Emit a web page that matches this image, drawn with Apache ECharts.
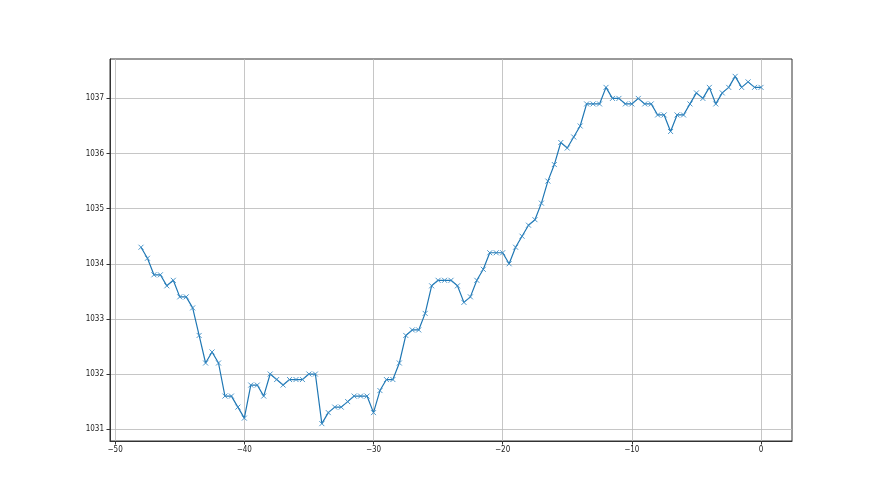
<!DOCTYPE html>
<html>
<head>
<meta charset="utf-8">
<script src="https://cdn.jsdelivr.net/npm/echarts@6/dist/echarts.min.js"></script>
<style>html,body{margin:0;padding:0;background:#fff}#c{width:880px;height:495px}</style>
</head>
<body>
<div id="c"></div>
<script>
const xValues = [-48,-47.5,-47,-46.5,-46,-45.5,-45,-44.5,-44,-43.5,-43,-42.5,-42,-41.5,-41,-40.5,-40,-39.5,-39,-38.5,-38,-37.5,-37,-36.5,-36,-35.5,-35,-34.5,-34,-33.5,-33,-32.5,-32,-31.5,-31,-30.5,-30,-29.5,-29,-28.5,-28,-27.5,-27,-26.5,-26,-25.5,-25,-24.5,-24,-23.5,-23,-22.5,-22,-21.5,-21,-20.5,-20,-19.5,-19,-18.5,-18,-17.5,-17,-16.5,-16,-15.5,-15,-14.5,-14,-13.5,-13,-12.5,-12,-11.5,-11,-10.5,-10,-9.5,-9,-8.5,-8,-7.5,-7,-6.5,-6,-5.5,-5,-4.5,-4,-3.5,-3,-2.5,-2,-1.5,-1,-0.5,0];
const yValues = [1034.3,1034.1,1033.8,1033.8,1033.6,1033.7,1033.4,1033.4,1033.2,1032.7,1032.2,1032.4,1032.2,1031.6,1031.6,1031.4,1031.2,1031.8,1031.8,1031.6,1032.0,1031.9,1031.8,1031.9,1031.9,1031.9,1032.0,1032.0,1031.1,1031.3,1031.4,1031.4,1031.5,1031.6,1031.6,1031.6,1031.3,1031.7,1031.9,1031.9,1032.2,1032.7,1032.8,1032.8,1033.1,1033.6,1033.7,1033.7,1033.7,1033.6,1033.3,1033.4,1033.7,1033.9,1034.2,1034.2,1034.2,1034.0,1034.3,1034.5,1034.7,1034.8,1035.1,1035.5,1035.8,1036.2,1036.1,1036.3,1036.5,1036.9,1036.9,1036.9,1037.2,1037.0,1037.0,1036.9,1036.9,1037.0,1036.9,1036.9,1036.7,1036.7,1036.4,1036.7,1036.7,1036.9,1037.1,1037.0,1037.2,1036.9,1037.1,1037.2,1037.4,1037.2,1037.3,1037.2,1037.2];
const xTicks = [-50,-40,-30,-20,-10,0];
const yTicks = [1031,1032,1033,1034,1035,1036,1037];

const chart = echarts.init(document.getElementById('c'), null, {renderer:'canvas'});
const fmtX = v => (v < 0 ? '\u2212' + Math.abs(v) : String(v));
const fmtY = v => String(v);
const pairs = xValues.map((x,i)=>[x,yValues[i]]);
const labelFont = {color:'#222',fontSize:8,fontFamily:'DejaVu Sans Condensed, DejaVu Sans'};
chart.setOption({
  animation:false,
  backgroundColor:'#ffffff',
  grid:{left:110,right:88,top:59,bottom:54,show:true,borderColor:'#333',borderWidth:1,backgroundColor:'transparent'},
  xAxis:{type:'value',min:-50.4,max:2.4,
    axisLine:{show:true,onZero:false,lineStyle:{color:'#333',width:1}},
    axisTick:{show:true,length:3.5,lineStyle:{color:'#333'},customValues:xTicks},
    axisLabel:Object.assign({margin:5,customValues:xTicks,formatter:fmtX},labelFont),
    splitLine:{show:true,lineStyle:{color:'#b8b8b8',width:0.8}}},
  yAxis:{type:'value',min:1030.785,max:1037.715,
    axisLine:{show:true,onZero:false,lineStyle:{color:'#333',width:1}},
    axisTick:{show:true,length:3.5,lineStyle:{color:'#333'},customValues:yTicks},
    axisLabel:Object.assign({margin:6,customValues:yTicks,formatter:fmtY},labelFont),
    splitLine:{show:true,lineStyle:{color:'#b8b8b8',width:0.8}}},
  series:[{type:'line',data:pairs,
    lineStyle:{color:'#1f77b4',width:1.2},
    symbol:'path://M0,0L10,10M10,0L0,10',symbolSize:5,
    itemStyle:{color:'#1f77b4',borderColor:'#3a8bc4',borderWidth:0.9},
    showAllSymbol:true}]
});
</script>
</body>
</html>
